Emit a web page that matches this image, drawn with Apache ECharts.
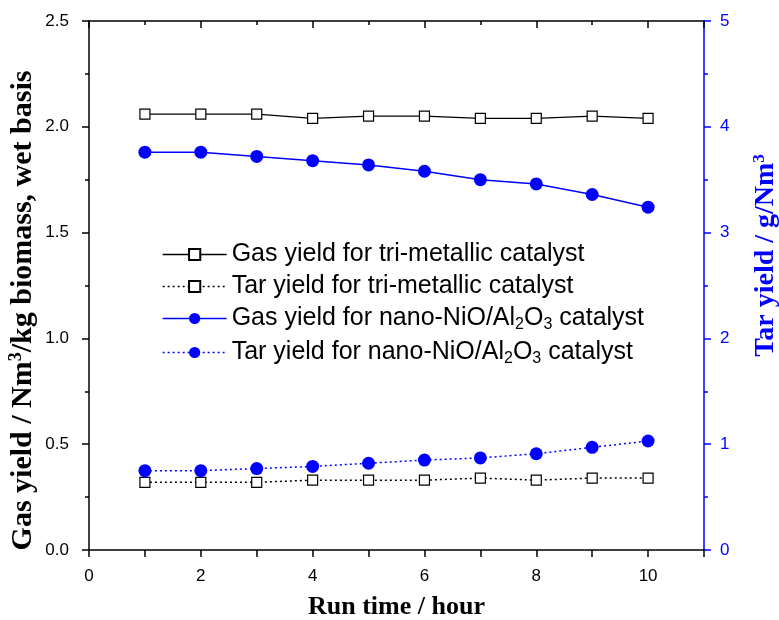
<!DOCTYPE html>
<html>
<head>
<meta charset="utf-8">
<script src="https://cdn.jsdelivr.net/npm/echarts@6/dist/echarts.min.js"></script>
<style>
html, body { margin: 0; padding: 0; background: #fff; }
#myLineChart { width: 779px; height: 620px; }
</style>
</head>
<body>
<div id="myLineChart"></div>
<script>
// run time, hour
var runTime = [1, 2, 3, 4, 5, 6, 7, 8, 9, 10];
// gas yield, Nm3/kg biomass (left axis)
var gasTri = [2.06, 2.06, 2.06, 2.04, 2.05, 2.05, 2.04, 2.04, 2.05, 2.04];
var gasNano = [1.88, 1.88, 1.86, 1.84, 1.82, 1.79, 1.75, 1.73, 1.68, 1.62];
// tar yield, g/Nm3 (right axis)
var tarTri = [0.64, 0.64, 0.64, 0.66, 0.66, 0.66, 0.68, 0.66, 0.68, 0.68];
var tarNano = [0.75, 0.75, 0.77, 0.79, 0.82, 0.85, 0.87, 0.91, 0.97, 1.03];

var seriesNames = [
    "Gas yield for tri-metallic catalyst",
    "Tar yield for tri-metallic catalyst",
    "Gas yield for nano-NiO/Al{sub|2}O{sub|3} catalyst",
    "Tar yield for nano-NiO/Al{sub|2}O{sub|3} catalyst"
];

function pairs(xs, ys){
    var out = [];
    for(var i=0;i<xs.length;i++){
        out.push([xs[i], ys[i]]);
    }
    return out;
}

var BLUE = "#0000ff";
var ARIAL = "Arial, 'Liberation Sans', sans-serif";
var TIMES = "'Times New Roman', 'Liberation Serif', serif";
var labelFont = {fontFamily: ARIAL, fontSize: 17, color: "#000"};

var chart = echarts.init(document.getElementById("myLineChart"));
var option = {
    animation: false,
    grid: {left: 89, right: 75, top: 21, bottom: 70, containLabel: false, outerBoundsMode: "none"},
    legend: {
        orient: "vertical",
        left: 157,
        top: 237,
        itemWidth: 64,
        itemHeight: 14,
        itemGap: 7,
        data: seriesNames,
        lineStyle: {width: 1.3},
        textStyle: {
            fontFamily: ARIAL,
            fontSize: 25,
            color: "#000",
            rich: {
                sub: {fontFamily: ARIAL, fontSize: 16, color: "#000", padding: [13, 0, 0, 0]}
            }
        }
    },
    xAxis: [
        {
            type: "value",
            position: "bottom",
            min: 0,
            max: 11,
            interval: 1,
            name: "Run time / hour",
            nameLocation: "middle",
            nameGap: 44,
            nameMoveOverlap: false,
            nameTextStyle: {fontFamily: TIMES, fontWeight: "bold", fontSize: 26, color: "#000"},
            axisLine: {show: true, onZero: false, lineStyle: {color: "#000", width: 1.5}},
            axisTick: {show: true, inside: false, length: 7, lineStyle: {color: "#000", width: 1.5}},
            axisLabel: Object.assign({
                margin: 18,
                formatter: function(v){ return (v % 2 === 0 && v <= 10) ? String(v) : ""; }
            }, labelFont),
            splitLine: {show: false}
        },
        {
            type: "value",
            position: "top",
            min: 0,
            max: 11,
            interval: 2,
            axisLine: {show: true, onZero: false, lineStyle: {color: "#000", width: 1.5}},
            axisTick: {show: true, inside: true, length: 7, lineStyle: {color: "#000", width: 1.5}},
            minorTick: {show: true, splitNumber: 2, length: 4, lineStyle: {color: "#000", width: 1.5}},
            axisLabel: {show: false},
            splitLine: {show: false}
        }
    ],
    yAxis: [
        {
            type: "value",
            position: "left",
            min: 0,
            max: 2.5,
            interval: 0.5,
            name: "Gas yield / Nm{sup|3}/kg biomass, wet basis",
            nameLocation: "middle",
            nameGap: 50,
            nameMoveOverlap: false,
            nameTextStyle: {
                fontFamily: TIMES, fontWeight: "bold", fontSize: 30, color: "#000",
                padding: [0, 50, 0, 0],
                rich: {
                    sup: {fontFamily: TIMES, fontWeight: "bold", fontSize: 18, color: "#000", padding: [0, 0, 14, 0]}
                }
            },
            axisLine: {show: true, onZero: false, lineStyle: {color: "#000", width: 1.5}},
            axisTick: {show: true, inside: false, length: 7, lineStyle: {color: "#000", width: 1.5}},
            minorTick: {show: true, splitNumber: 2, length: 4, lineStyle: {color: "#000", width: 1.5}},
            axisLabel: Object.assign({
                margin: 20,
                formatter: function(v){ return v.toFixed(1); }
            }, labelFont),
            splitLine: {show: false}
        },
        {
            type: "value",
            position: "right",
            min: 0,
            max: 5,
            interval: 1,
            name: "Tar yield / g/Nm{sup|3}",
            nameLocation: "middle",
            nameGap: 47,
            nameMoveOverlap: false,
            nameRotate: 90,
            nameTextStyle: {
                fontFamily: TIMES, fontWeight: "bold", fontSize: 28, color: BLUE,
                padding: [0, 0, 0, 60],
                rich: {
                    sup: {fontFamily: TIMES, fontWeight: "bold", fontSize: 17, color: BLUE, padding: [0, 0, 13, 0]}
                }
            },
            axisLine: {show: true, onZero: false, lineStyle: {color: BLUE, width: 1.5}},
            axisTick: {show: true, inside: false, length: 7, lineStyle: {color: BLUE, width: 1.5}},
            minorTick: {show: true, splitNumber: 2, length: 4, lineStyle: {color: BLUE, width: 1.5}},
            axisLabel: {
                margin: 16,
                fontFamily: ARIAL,
                fontSize: 17,
                color: BLUE
            },
            splitLine: {show: false}
        }
    ],
    series: [
        {
            name: seriesNames[0],
            type: "line",
            xAxisIndex: 0,
            yAxisIndex: 0,
            symbol: "rect",
            symbolSize: 10,
            itemStyle: {color: "#fff", borderColor: "#000", borderWidth: 1.2},
            lineStyle: {color: "#000", width: 1.3, type: "solid"},
            data: pairs(runTime, gasTri)
        },
        {
            name: seriesNames[1],
            type: "line",
            xAxisIndex: 0,
            yAxisIndex: 1,
            symbol: "rect",
            symbolSize: 10,
            itemStyle: {color: "#fff", borderColor: "#000", borderWidth: 1.2},
            lineStyle: {color: "#000", width: 1.5, type: [2, 3]},
            data: pairs(runTime, tarTri)
        },
        {
            name: seriesNames[2],
            type: "line",
            xAxisIndex: 0,
            yAxisIndex: 0,
            symbol: "circle",
            symbolSize: 13,
            itemStyle: {color: BLUE, borderColor: BLUE, borderWidth: 0},
            lineStyle: {color: BLUE, width: 1.5, type: "solid"},
            data: pairs(runTime, gasNano)
        },
        {
            name: seriesNames[3],
            type: "line",
            xAxisIndex: 0,
            yAxisIndex: 1,
            symbol: "circle",
            symbolSize: 13,
            itemStyle: {color: BLUE, borderColor: BLUE, borderWidth: 0},
            lineStyle: {color: BLUE, width: 1.5, type: [2, 3]},
            data: pairs(runTime, tarNano)
        }
    ]
};
chart.setOption(option);
</script>
</body>
</html>
